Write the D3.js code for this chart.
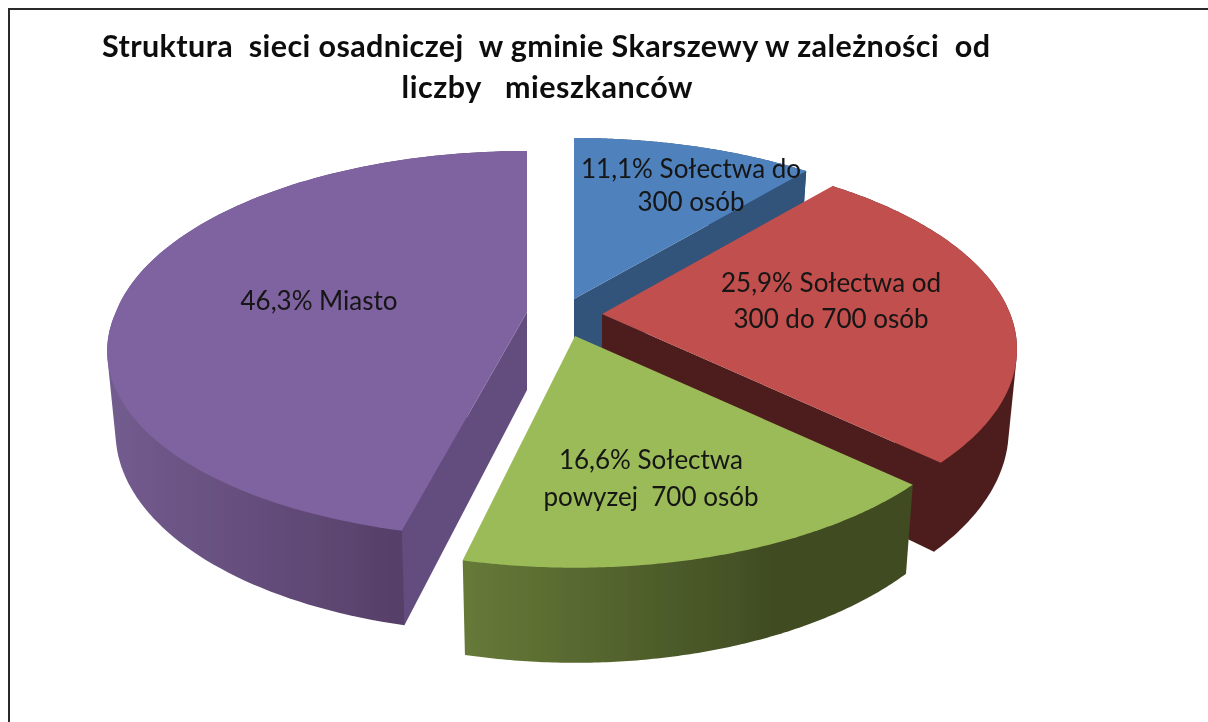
<!DOCTYPE html>
<html><head><meta charset="utf-8">
<script src="https://cdn.jsdelivr.net/npm/d3@7"></script>
<style>html,body{margin:0;background:#fff}svg{display:block}text{white-space:pre;font-family:Lato,"Open Sans",sans-serif;fill:#141414}</style>
</head><body><svg id="c" width="1208" height="722"></svg>
<script>
const categories = ["Sołectwa do 300 osób","Sołectwa od 300 do 700 osób","Sołectwa powyzej  700 osób","Miasto"];
const values = [11.1,25.9,16.6,46.3];
const labelLines = [["Sołectwa do","300 osób"],["Sołectwa od","300 do 700 osób"],["Sołectwa","powyzej  700 osób"],["Miasto"]];
const titleLines = ["Struktura  sieci osadniczej  w gminie Skarszewy w zależności  od","liczby   mieszkanców"];
const topColors = ["#4f81bd","#c0504d","#9bbb59","#7f62a0"];
const cutColors = ["#31527a","#4e1f1d","#3f4b22","#644e7e"];
const wallFrom = ["#31527a","#4e1f1d","#667a38","#735c8f"];
const wallTo = ["#31527a","#4e1f1d","#3f4b22","#563f68"];

// camera / explosion
const RX=407,RY=190,K=0.18,DEPTH=78,BOTTOM_X=0.98;
const apex=[[574,299],[602,314],[575,336],[527,312]];
const lean=[0,0,0,0.052], squash=[1,1,1,0.975], widen=[1.01,1.003,1,1.01];
const wallEndX=[800,1017,780,405];
const labelAt=[[691,178,33],[831,292,36],[651,469,37],[319,310,0]];
const titleAt=[[546,57,888],[547,98,291]];

const svg=d3.select("#c");
const defs=svg.append("defs");
defs.append("filter").attr("id","soft").attr("x","-5%").attr("y","-5%").attr("width","110%").attr("height","110%")
  .append("feGaussianBlur").attr("stdDeviation",0.45);
const pie=d3.pie().sort(null).value(d=>d)(values);

function P(i,a,r,z){
  const u=r*Math.sin(a),v=-r*Math.cos(a),s=1/(1-K*v);
  let dx=RX*widen[i]*u*s, dy=RY*v*s;
  if(dy>0){dx-=lean[i]*dy;dy*=squash[i];}
  return [apex[i][0]+dx*(z?BOTTOM_X:1), apex[i][1]+dy+(z?DEPTH*s:0)];
}
const line=d3.line();
const arcPts=(i,s,e,z)=>d3.range(0,121).map(n=>P(i,s+(e-s)*n/120,1,z));
const A=(i,z)=>[apex[i][0],apex[i][1]+(z?DEPTH:0)];

// border
svg.append("path").attr("d","M9,722V9H1208").attr("fill","none").attr("stroke","#2b2b2b").attr("stroke-width",2).attr("filter","url(#soft)");

const g=svg.append("g").attr("filter","url(#soft)");
[0,1,3,2].forEach(i=>{
  const d=pie[i],a0=d.startAngle,a1=d.endAngle;
  const top=arcPts(i,a0,a1,0),bot=arcPts(i,a0,a1,1);
  const id="w"+i,xs=top.map(p=>p[0]);
  const gr=defs.append("linearGradient").attr("id",id).attr("gradientUnits","userSpaceOnUse")
    .attr("x1",d3.min(xs)).attr("x2",wallEndX[i]).attr("y1",0).attr("y2",0);
  gr.append("stop").attr("offset",0).attr("stop-color",wallFrom[i]);
  gr.append("stop").attr("offset",1).attr("stop-color",wallTo[i]);
  const mid=P(i,(a0+a1)/2,0.6,0),O=A(i,0);
  g.append("path").attr("fill",`url(#${id})`).attr("d",line(d3.polygonHull(top.concat(bot)))+"Z");
  [a0,a1].forEach(ang=>{
    const q=P(i,ang,1,0),dx=q[0]-O[0],dy=q[1]-O[1];
    if(Math.abs(dx)<1)return;
    const ly=O[1]+dy/dx*(mid[0]-O[0]);
    if(mid[1]<ly) g.append("path").attr("fill",cutColors[i])
      .attr("d",line([O,q,P(i,ang,1,1),A(i,1)])+"Z");
  });
  g.append("path").attr("fill",topColors[i]).attr("d",line([O].concat(top))+"Z");
});

const t=svg.append("g").attr("filter","url(#soft)");
titleLines.forEach((s,n)=>t.append("text").text(s).attr("x",titleAt[n][0]).attr("y",titleAt[n][1])
  .attr("textLength",titleAt[n][2]).attr("lengthAdjust","spacing")
  .attr("text-anchor","middle").attr("font-size",30.5).attr("font-weight",700).style("fill","#0c0c0c"));
const fmt=v=>v.toFixed(1).replace(".",",")+"%";
values.forEach((v,i)=>{
  labelLines[i].forEach((s,n)=>t.append("text").text(n?s:fmt(v)+" "+s)
    .attr("x",labelAt[i][0]).attr("y",labelAt[i][1]+n*labelAt[i][2])
    .attr("text-anchor","middle").attr("font-size",26));
});
</script></body></html>
